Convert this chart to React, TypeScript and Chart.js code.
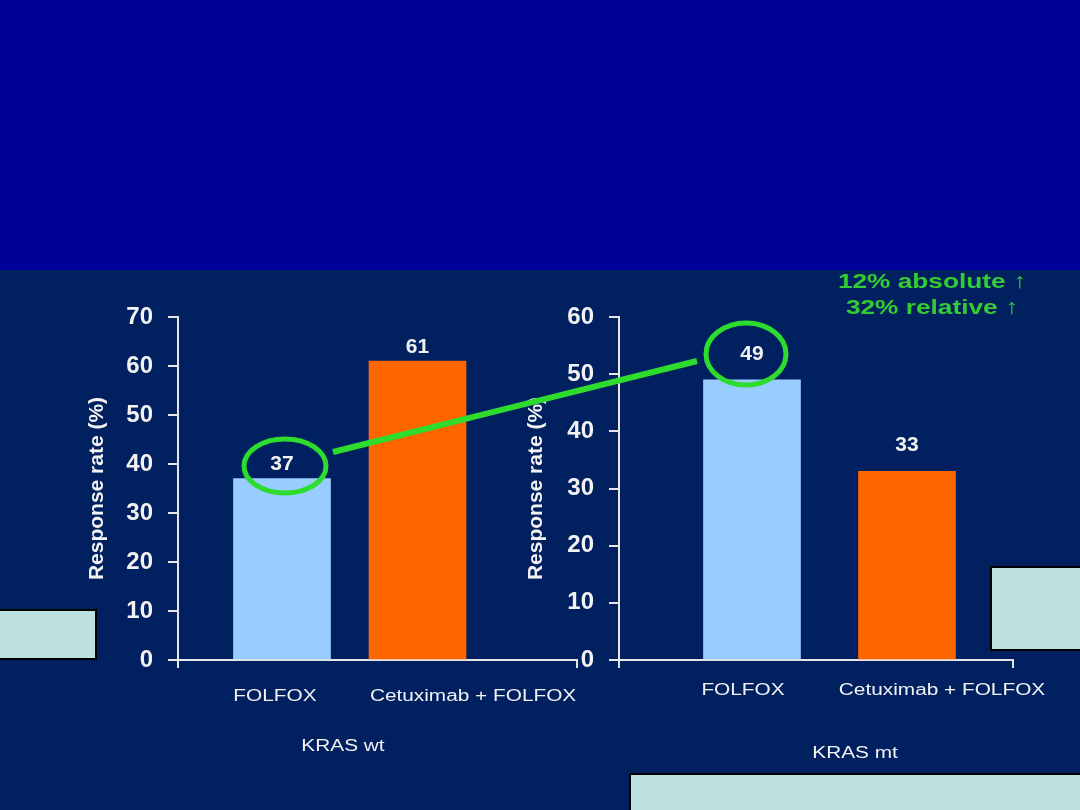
import React, { useEffect, useRef } from "react";
import { Chart, registerables } from "chart.js";

Chart.register(...registerables);

// ---- data ----
const categories = ["FOLFOX", "Cetuximab + FOLFOX"];
const wtValues = [37, 61];
const mtValues = [49, 33];
const wtTicks = [0, 10, 20, 30, 40, 50, 60, 70];
const mtTicks = [0, 10, 20, 30, 40, 50, 60];
const wtGroup = "KRAS wt";
const mtGroup = "KRAS mt";
const yTitle = "Response rate (%)";
const noteLines = ["12% absolute \u2191", "32% relative \u2191"];
const barColors = ["#99ccff", "#ff6600"];

const FONT = '"Liberation Sans", Arial, Helvetica, sans-serif';
const WHITE = "#f2f2f2";
const AXIS = "#e6e6e6";

type Opts = {
  values: number[];
  ticks: number[];
  group: string;
  xMin: number;
  xMax: number;
  labelAt: number[];
  labelY: number;
  groupAt: number;
  groupY: number;
  valueGap: number;
  yWidth: number;
  padRight: number;
  titlePad: number;
};

const labelPlugin = {
  id: "barLabels",
  afterDatasetsDraw(chart: any, _args: any, opts: any) {
    const { ctx } = chart;
    const meta = chart.getDatasetMeta(0);
    const ds = chart.data.datasets[0].data as any[];
    ctx.save();
    ctx.fillStyle = WHITE;
    ctx.textAlign = "center";
    ctx.textBaseline = "middle";
    ctx.font = `bold 21px ${FONT}`;
    meta.data.forEach((el: any, i: number) => {
      ctx.fillText(String(ds[i].y), el.x, el.y - opts.valueGap);
    });
    const xs = chart.scales.x;
    ctx.font = `16px ${FONT}`;
    const drawStretched = (t: string, x: number, y: number) => {
      ctx.save();
      ctx.translate(x, y);
      ctx.scale(1.3, 1);
      ctx.fillText(t, 0, 0);
      ctx.restore();
    };
    (opts.categories as string[]).forEach((c, i) => {
      drawStretched(c, xs.getPixelForValue(opts.labelAt[i]), opts.labelY);
    });
    drawStretched(opts.group, xs.getPixelForValue(opts.groupAt), opts.groupY);
    ctx.restore();
  },
};

function makeConfig(o: Opts): any {
  return {
    type: "bar",
    data: {
      datasets: [
        {
          data: o.values.map((v, i) => ({ x: i, y: v })),
          backgroundColor: barColors,
          borderWidth: 0,
          barThickness: 97,
        },
      ],
    },
    plugins: [labelPlugin],
    options: {
      animation: false,
      responsive: false,
      devicePixelRatio: 1,
      layout: { padding: { top: 27, right: o.padRight, left: 0, bottom: 0 } },
      plugins: {
        legend: { display: false },
        tooltip: { enabled: false },
        barLabels: {
          categories,
          group: o.group,
          labelAt: o.labelAt,
          labelY: o.labelY,
          groupAt: o.groupAt,
          groupY: o.groupY,
          valueGap: o.valueGap,
        },
      },
      scales: {
        x: {
          type: "linear",
          min: o.xMin,
          max: o.xMax,
          offset: false,
          afterBuildTicks: (s: any) => {
            s.ticks = [{ value: o.xMin }, { value: o.xMax }];
          },
          ticks: { display: false },
          grid: {
            offset: false,
            drawOnChartArea: false,
            drawTicks: true,
            tickLength: 8,
            color: AXIS,
            lineWidth: 2,
          },
          border: { display: true, color: AXIS, width: 2 },
          afterFit: (s: any) => {
            s.height = 110;
            s.paddingLeft = 0;
            s.paddingRight = 0;
          },
        },
        y: {
          min: 0,
          max: o.ticks[o.ticks.length - 1],
          afterBuildTicks: (s: any) => {
            s.ticks = o.ticks.map((v) => ({ value: v }));
          },
          ticks: {
            color: WHITE,
            padding: 15,
            font: { family: FONT, size: 24, weight: "bold" },
          },
          grid: {
            drawOnChartArea: false,
            drawTicks: true,
            tickLength: 10,
            color: AXIS,
            lineWidth: 2,
          },
          border: { display: true, color: AXIS, width: 2 },
          title: {
            display: true,
            text: yTitle,
            color: WHITE,
            font: { family: FONT, size: 21, weight: "bold" },
            padding: { top: o.titlePad, bottom: 0 },
          },
          afterFit: (s: any) => {
            s.width = o.yWidth;
            s.paddingTop = 0;
            s.paddingBottom = 0;
          },
        },
      },
    },
  };
}

export default function App() {
  const leftRef = useRef<HTMLCanvasElement>(null);
  const rightRef = useRef<HTMLCanvasElement>(null);

  useEffect(() => {
    const left = new Chart(
      leftRef.current as HTMLCanvasElement,
      makeConfig({
        values: wtValues,
        ticks: wtTicks,
        group: wtGroup,
        xMin: -0.7675,
        xMax: 2.177,
        labelAt: [-0.052, 1.41],
        labelY: 407,
        groupAt: 0.45,
        groupY: 457,
        valueGap: 14,
        yWidth: 178,
        padRight: 23,
        titlePad: 85,
      })
    );
    const right = new Chart(
      rightRef.current as HTMLCanvasElement,
      makeConfig({
        values: mtValues,
        ticks: mtTicks,
        group: mtGroup,
        xMin: -0.858,
        xMax: 1.684,
        labelAt: [-0.058, 1.226],
        labelY: 401,
        groupAt: 0.665,
        groupY: 464,
        valueGap: 26,
        yWidth: 179,
        padRight: 67,
        titlePad: 84,
      })
    );
    return () => {
      left.destroy();
      right.destroy();
    };
  }, []);

  const green = "#2ddc2d";
  const box = (l: number, t: number, w: number, h: number) => (
    <div
      style={{
        position: "absolute",
        left: l,
        top: t,
        width: w,
        height: h,
        boxSizing: "border-box",
        background: "#bde1e1",
        border: "2px solid #000",
      }}
    />
  );

  return (
    <div
      style={{
        position: "absolute",
        left: 0,
        top: 0,
        width: 1080,
        height: 810,
        background: "#002060",
        overflow: "hidden",
        fontFamily: FONT,
      }}
    >
      <div
        style={{
          position: "absolute",
          left: 0,
          top: 0,
          width: 1080,
          height: 270,
          background: "#000099",
        }}
      />
      <canvas
        ref={leftRef}
        width={600}
        height={480}
        style={{ position: "absolute", left: 0, top: 290 }}
      />
      <canvas
        ref={rightRef}
        width={640}
        height={480}
        style={{ position: "absolute", left: 440, top: 290 }}
      />
      <svg
        width={1080}
        height={810}
        style={{ position: "absolute", left: 0, top: 0, pointerEvents: "none" }}
      >
        <line x1={333} y1={452} x2={697} y2={361} stroke={green} strokeWidth={6} />
        <ellipse cx={285} cy={466} rx={41} ry={27} fill="none" stroke={green} strokeWidth={5} />
        <ellipse cx={746} cy={354} rx={40} ry={31} fill="none" stroke={green} strokeWidth={5} />
      </svg>
      <div
        style={{
          position: "absolute",
          left: 782,
          top: 268,
          width: 300,
          textAlign: "center",
          color: "#33cc33",
          fontWeight: "bold",
          fontSize: 21,
          lineHeight: "26px",
          transform: "scaleX(1.25)",
          transformOrigin: "150px 0",
        }}
      >
        {noteLines.map((t) => (
          <div key={t}>{t}</div>
        ))}
      </div>
      {box(-2, 609, 99, 51)}
      {box(990, 566, 92, 85)}
      {box(629, 773, 453, 39)}
    </div>
  );
}
